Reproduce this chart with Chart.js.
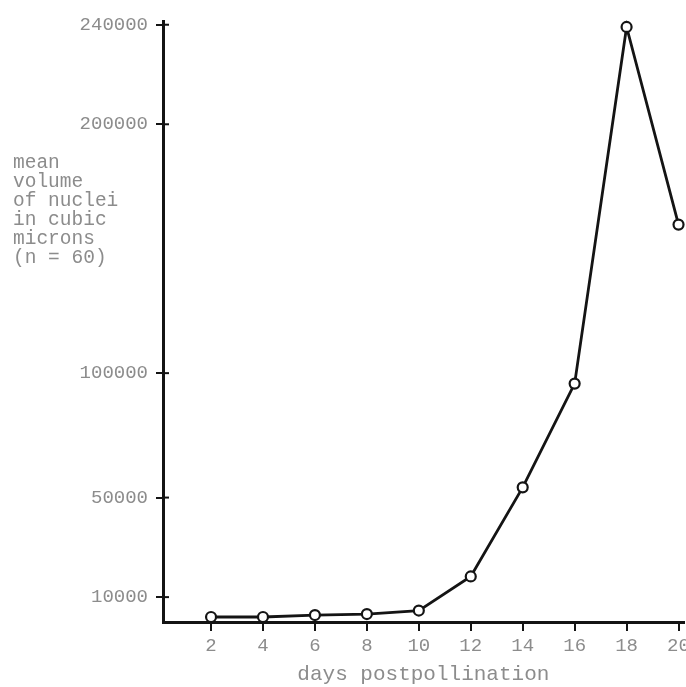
<!DOCTYPE html>
<html>
<head>
<meta charset="utf-8">
<script src="https://cdn.jsdelivr.net/npm/chart.js@4/dist/chart.umd.min.js"></script>
<style>
  html, body { margin: 0; padding: 0; background: #fff; overflow: hidden; width: 686px; height: 687px; }
  #wrap { width: 694px; height: 687px; position: relative; }
</style>
</head>
<body>
<div id="wrap"><canvas id="c"></canvas></div>
<script>
// Mean nuclear volume over days after pollination
const days = [2, 4, 6, 8, 10, 12, 14, 16, 18, 20];
const meanVolume = [2000, 2000, 2800, 3200, 4600, 18300, 54100, 95800, 239100, 159700];
const xTickValues = [2, 4, 6, 8, 10, 12, 14, 16, 18, 20];
const yTickValues = [10000, 50000, 100000, 200000, 240000];
const yTitleLines = ['mean', 'volume', 'of nuclei', 'in cubic', 'microns', '(n = 60)'];
const xTitle = 'days postpollination';

const INK = '#141414';
const TEXT = '#8c8c8c';
const FONT = "'Liberation Mono', 'DejaVu Sans Mono', monospace";

// Horizontal multi-line y title plus small inner tick marks on the y axis
const extras = {
  id: 'extras',
  afterDraw(chart) {
    const ctx = chart.ctx;
    const y = chart.scales.y;
    const x = chart.scales.x;
    ctx.save();
    ctx.strokeStyle = INK;
    ctx.lineWidth = 2;
    yTickValues.forEach(v => {
      const py = y.getPixelForValue(v);
      ctx.beginPath();
      ctx.moveTo(x.left, py);
      ctx.lineTo(x.left + 6, py);
      ctx.stroke();
    });
    ctx.fillStyle = TEXT;
    ctx.font = '19.5px ' + FONT;
    ctx.textBaseline = 'middle';
    ctx.textAlign = 'left';
    yTitleLines.forEach((t, i) => ctx.fillText(t, 13, 163 + i * 19));
    ctx.restore();
  }
};

new Chart(document.getElementById('c'), {
  type: 'line',
  data: {
    datasets: [{
      data: days.map((d, i) => ({ x: d, y: meanVolume[i] })),
      borderColor: INK,
      borderWidth: 2.8,
      pointRadius: 5,
      pointBorderWidth: 2.2,
      pointBackgroundColor: '#fff',
      pointBorderColor: INK,
      tension: 0,
      fill: false,
      clip: false
    }]
  },
  options: {
    responsive: true,
    maintainAspectRatio: false,
    animation: false,
    layout: { padding: { top: 21, right: 0, bottom: 0, left: 0 } },
    plugins: { legend: { display: false }, tooltip: { enabled: false } },
    scales: {
      x: {
        type: 'linear',
        min: 0.15,
        max: 20.2,
        afterBuildTicks(s) { s.ticks = xTickValues.map(v => ({ value: v })); },
        afterFit(s) { s.height = 65; },
        border: { color: INK, width: 3 },
        grid: { drawOnChartArea: false, drawTicks: true, tickLength: 9, color: INK, lineWidth: 2 },
        ticks: { color: TEXT, font: { family: FONT, size: 19 }, padding: 4, maxRotation: 0, autoSkip: false },
        title: { display: true, text: xTitle, color: TEXT, font: { family: FONT, size: 21 }, padding: { top: 1, bottom: 0 } }
      },
      y: {
        type: 'linear',
        min: 0,
        max: 241500,
        afterBuildTicks(s) { s.ticks = yTickValues.map(v => ({ value: v })); },
        afterFit(s) { s.width = 163; },
        border: { color: INK, width: 3 },
        grid: { drawOnChartArea: false, drawTicks: true, tickLength: 7, color: INK, lineWidth: 2 },
        ticks: { color: TEXT, font: { family: FONT, size: 19 }, padding: 8, callback: v => String(v) }
      }
    }
  },
  plugins: [extras]
});
</script>
</body>
</html>
